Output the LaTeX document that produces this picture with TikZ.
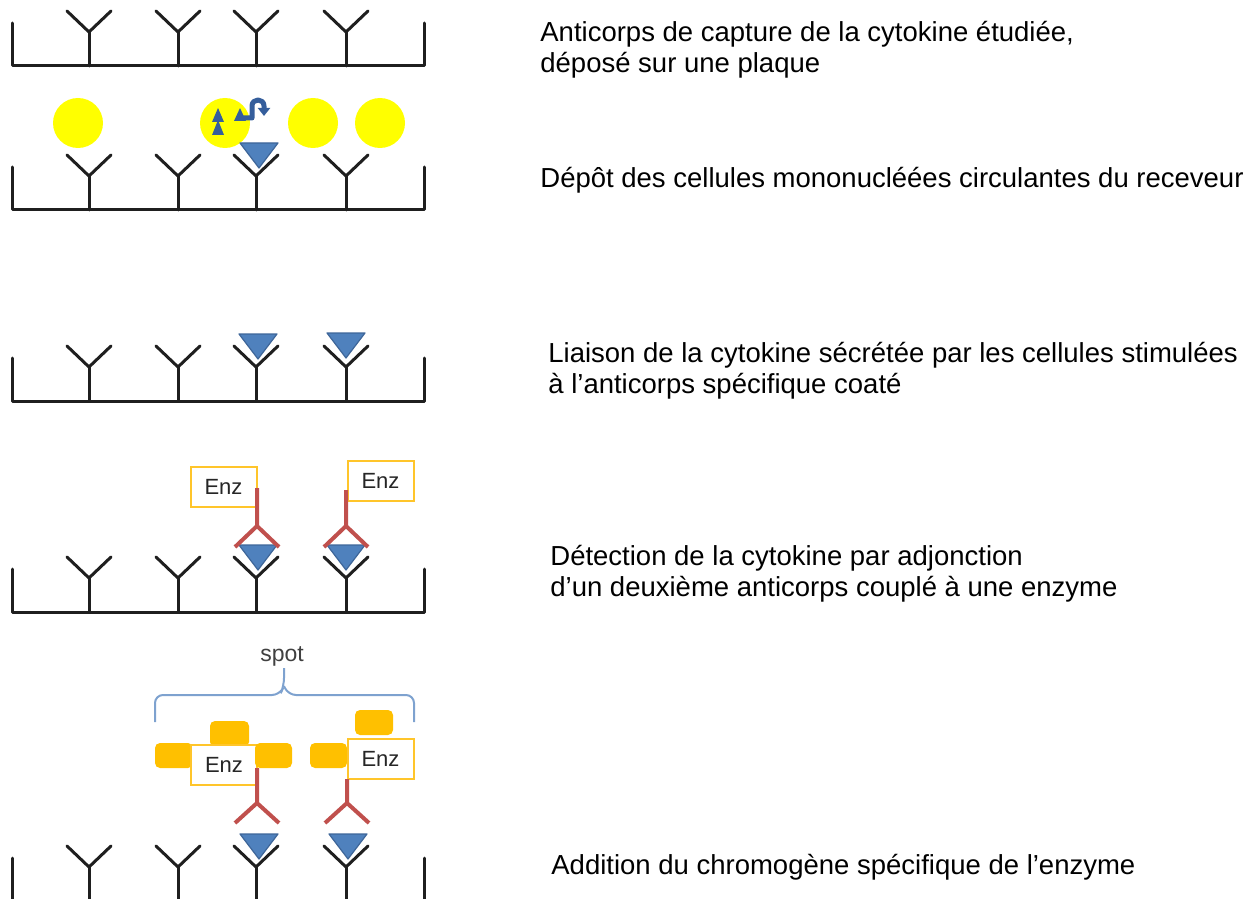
\documentclass[tikz,border=0pt]{standalone}
\usepackage{fontspec}
\setmainfont{Liberation Sans}
\usetikzlibrary{arrows.meta}

\definecolor{cytoblue}{HTML}{4F81BD}
\definecolor{cytoedge}{HTML}{3E6699}
\definecolor{glyphblue}{HTML}{355E9C}
\definecolor{detred}{HTML}{C0504D}
\definecolor{enzgold}{HTML}{FFC000}
\definecolor{enzedge}{HTML}{FFC52A}
\definecolor{cellyellow}{HTML}{FFFF00}
\definecolor{bracketblue}{HTML}{7EA2CF}

\tikzset{
  plaqueline/.style={line width=1.5pt, line cap=round, line join=round, black!88},
  cytokinestyle/.style={fill=cytoblue, draw=cytoedge, line width=0.6pt, line join=round},
  detectline/.style={line width=2pt, detred},
  enzbox/.style={draw=enzedge, line width=1pt, fill=white, minimum width=33pt,
    minimum height=20pt, inner sep=0pt, text=black!85, font=\fontsize{11}{13}\selectfont},
  chromo/.style={fill=enzgold, rounded corners=2.5pt},
  cellstyle/.style={fill=cellyellow},
  steptext/.style={anchor=base west, align=left, inner sep=0pt, text=black,
    font=\fontsize{13.75}{15.5}\selectfont},
  % plate with its four capture antibodies, placed at the floor
  pics/plaque/.style={code={
    \draw[plaqueline] (12,-43) -- (12,0) -- (424,0) -- (424,-43);
    \foreach \xa in {89,178,256,346}{
      \draw[plaqueline] (\xa,0) -- (\xa,-34);
      \draw[plaqueline] (\xa-22,-55) -- (\xa,-34) -- (\xa+22,-55);
    }
  }},
  % cytokine caught in the fork of an antibody
  pics/cytokine/.style={code={
    \filldraw[cytokinestyle] (-19,-33) -- (19,-33) -- (0,-8) -- cycle;
  }}
}

\begin{document}
\begin{tikzpicture}[x=0.5pt, y=-0.5pt]
  \useasboundingbox (0,0) rectangle (1254,899);

  % plates, top to bottom
  \pic at (0,66) {plaque};
  \pic at (0,210) {plaque};
  \pic at (0,401) {plaque};
  \pic at (0,612) {plaque};
  \pic at (0,901) {plaque};

  % step 2: cells
  \foreach \xc in {78,225,313,380}
    \fill[cellstyle] (\xc,123) circle (25);
  \fill[glyphblue] (218,108) -- (224,122) -- (212,122) -- cycle;
  \fill[glyphblue] (218,120) -- (224,135) -- (212,135) -- cycle;
  \fill[glyphblue] (240,108) -- (246,121) -- (234,121) -- cycle;
  \draw[glyphblue, line width=2.5pt, line join=round, -{Triangle[length=4pt, width=6pt]}]
    (242,118) -- (252,118) -- (252,106) .. controls (252,98) and (264,98) .. (264,106) -- (264,116);
  \pic at (259,176) {cytokine};

  % step 3: bound cytokine
  \pic at (258,367) {cytokine};
  \pic at (346,366) {cytokine};

  % step 4: detection antibody with enzyme
  \pic at (258,578) {cytokine};
  \pic at (346,578) {cytokine};
  \node[enzbox] (enzA) at (223.5,487) {Enz};
  \node[enzbox] (enzB) at (380.5,481) {Enz};
  \draw[detectline] (257,488) -- (257,526) (235,547) -- (257,526) -- (279,547);
  \draw[detectline] (346,490) -- (346,526) (324,547) -- (346,526) -- (368,547);

  % step 5: chromogen spots
  \pic at (259,867) {cytokine};
  \pic at (348,867) {cytokine};
  \fill[chromo] (155,743) rectangle (193,768);
  \fill[chromo] (210,721) rectangle (249,747);
  \fill[chromo] (310,743) rectangle (347,768);
  \fill[chromo] (355,710) rectangle (393,735);
  \node[enzbox] (enzC) at (224,765) {Enz};
  \node[enzbox] (enzD) at (380.5,758.5) {Enz};
  \fill[chromo] (255,743) rectangle (292,768);
  \draw[detectline] (257,768) -- (257,803) (235,823) -- (257,803) -- (279,823);
  \draw[detectline] (347,779) -- (347,803) (325,823) -- (347,803) -- (369,823);
  \draw[bracketblue, line width=1pt, rounded corners=4pt]
    (155,722) -- (155,695) -- (280,695) -- (284,686) -- (284,668);
  \draw[bracketblue, line width=1pt, rounded corners=4pt]
    (414,722) -- (414,695) -- (288,695) -- (284,686);
  \node[text=black!75, font=\fontsize{11.5}{13}\selectfont] (spot) at (282,656) {spot};

  % step captions (base = last line)
  \node[steptext] (txtA) at (540,73) {Anticorps de capture de la cytokine étudiée,\\déposé sur une plaque};
  \node[steptext] (txtB) at (540,188) {Dépôt des cellules mononucléées circulantes du receveur};
  \node[steptext] (txtC) at (548,393) {Liaison de la cytokine sécrétée par les cellules stimulées\\à l'anticorps spécifique coaté};
  \node[steptext] (txtD) at (550,596) {Détection de la cytokine par adjonction\\d'un deuxième anticorps couplé à une enzyme};
  \node[steptext] (txtE) at (551,874) {Addition du chromogène spécifique de l'enzyme};
\end{tikzpicture}
\end{document}
